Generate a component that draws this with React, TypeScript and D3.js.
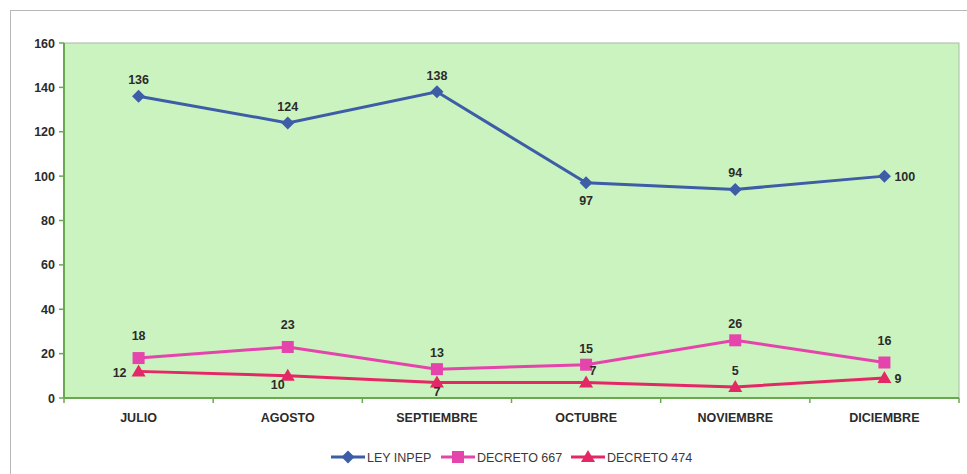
import React from "react";
import * as d3 from "d3";

const categories = ["JULIO", "AGOSTO", "SEPTIEMBRE", "OCTUBRE", "NOVIEMBRE", "DICIEMBRE"];
const leyInpep = [136, 124, 138, 97, 94, 100];
const decreto667 = [18, 23, 13, 15, 26, 16];
const decreto474 = [12, 10, 7, 7, 5, 9];
const yTicks = [0, 20, 40, 60, 80, 100, 120, 140, 160];
const seriesNames = ["LEY INPEP", "DECRETO 667", "DECRETO 474"];

const labelPosInpep = ["above", "above", "above", "below", "above", "right"];
const labelPos667 = ["aboveHigh", "aboveHigh", "above", "above", "above", "aboveHigh"];
const labelPos474 = ["left", "belowLeft", "belowNear", "aboveRight", "above", "right"];

const W = 967, H = 474;
const left = 64, right = 959, top = 43, bottom = 398;
const colors = ["#3d5da6", "#e444ac", "#e42866"];
const font = "Arial, 'Liberation Sans', sans-serif";

function labelOffset(p: string): [number, number, string] {
  switch (p) {
    case "below": return [0, 22, "middle"];
    case "belowNear": return [0, 14, "middle"];
    case "belowLeft": return [-10, 13, "middle"];
    case "left": return [-12, 6, "end"];
    case "right": return [10, 5, "start"];
    case "aboveRight": return [7, -7, "middle"];
    case "aboveHigh": return [0, -18, "middle"];
    default: return [0, -12, "middle"];
  }
}

function Marker({ kind, x, y, color }: { kind: number; x: number; y: number; color: string }) {
  if (kind === 0) {
    const s = 6.5;
    return <path d={`M${x},${y - s}L${x + s},${y}L${x},${y + s}L${x - s},${y}Z`} fill={color} />;
  }
  if (kind === 1) {
    return <rect x={x - 6} y={y - 6} width={12} height={12} fill={color} />;
  }
  return <path d={`M${x},${y - 7}L${x + 7},${y + 5}L${x - 7},${y + 5}Z`} fill={color} />;
}

export default function App() {
  const x = d3.scaleBand().domain(categories).range([left, right]);
  const y = d3.scaleLinear().domain([0, 160]).range([bottom, top]);
  const cx = (c: string) => (x(c) as number) + x.bandwidth() / 2;
  const line = d3.line<number>().x((_, i) => cx(categories[i])).y((d) => y(d));
  const series = [leyInpep, decreto667, decreto474];
  const positions = [labelPosInpep, labelPos667, labelPos474];
  const bandEdges = categories.map((c) => x(c) as number).concat([right]);

  const legendX = [331, 441, 571];
  return (
    <svg width={W} height={H} style={{ position: "absolute", left: 0, top: 0, background: "#fff" }} fontFamily={font}>
      <rect x={10.5} y={10.5} width={980} height={480} fill="#fff" stroke="#b8b8b8" />
      <rect x={left} y={top} width={right - left} height={bottom - top} fill="#cbf3bf" stroke="#a9b9a4" />
      {yTicks.map((t) => (
        <g key={t}>
          <line x1={left - 5} x2={left} y1={y(t)} y2={y(t)} stroke="#6aa84f" strokeWidth={1.5} />
          <text x={left - 9} y={y(t) + 4.5} textAnchor="end" fontSize={12.5} fontWeight="bold" fill="#2b2b2b">{t}</text>
        </g>
      ))}
      <line x1={left} x2={left} y1={top} y2={bottom} stroke="#6aa84f" strokeWidth={2} />
      <line x1={left} x2={right} y1={bottom} y2={bottom} stroke="#6aa84f" strokeWidth={2} />
      {bandEdges.map((e, i) => (
        <line key={i} x1={e} x2={e} y1={bottom} y2={bottom + 5} stroke="#6aa84f" strokeWidth={1.5} />
      ))}
      {categories.map((c) => (
        <text key={c} x={cx(c)} y={bottom + 24} textAnchor="middle" fontSize={12.5} fontWeight="bold" fill="#2b2b2b">{c}</text>
      ))}
      {series.map((s, k) => (
        <g key={k}>
          <path d={line(s) || ""} fill="none" stroke={colors[k]} strokeWidth={3} />
          {s.map((v, i) => (
            <Marker key={i} kind={k} x={cx(categories[i])} y={y(v)} color={colors[k]} />
          ))}
        </g>
      ))}
      {series.map((s, k) =>
        s.map((v, i) => {
          const [dx, dy, anchor] = labelOffset(positions[k][i]);
          return (
            <text key={`${k}-${i}`} x={cx(categories[i]) + dx} y={y(v) + dy} textAnchor={anchor as any} fontSize={12.5} fontWeight="bold" fill="#2b2b2b">{v}</text>
          );
        })
      )}
      {seriesNames.map((n, k) => (
        <g key={n}>
          <line x1={legendX[k]} x2={legendX[k] + 34} y1={457} y2={457} stroke={colors[k]} strokeWidth={3} />
          <Marker kind={k} x={legendX[k] + 17} y={457} color={colors[k]} />
          <text x={legendX[k] + 36} y={461.5} fontSize={12.5} fill="#3a3a3a">{n}</text>
        </g>
      ))}
    </svg>
  );
}
